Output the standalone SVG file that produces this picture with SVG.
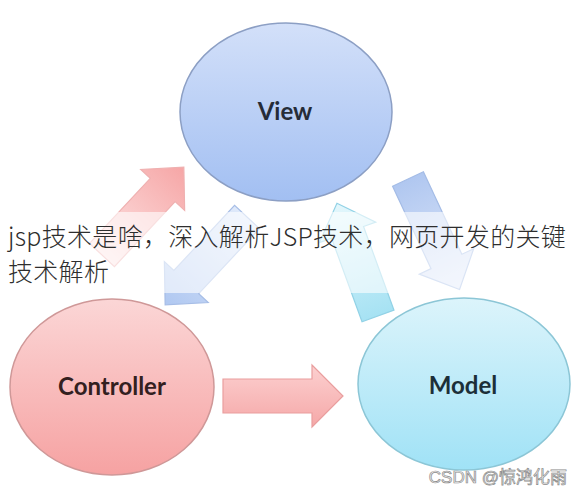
<svg xmlns="http://www.w3.org/2000/svg" width="578" height="490" viewBox="0 0 578 490">
<defs>
<style>
.lbl{font-family:Lato,"Open Sans","Liberation Sans",sans-serif;font-weight:bold;font-size:24px;text-anchor:middle}
.cap{font-family:"Noto Sans CJK SC","Noto Sans",sans-serif;font-weight:300;font-size:25px;letter-spacing:0.3px;fill:#2e2e2e}
.wm{font-family:"Liberation Sans","Noto Sans CJK SC",sans-serif;font-size:17px;fill:#f2f2f2;stroke:#8c8c8c;stroke-width:0.7}
.arr{stroke-width:1.2;stroke-linejoin:miter}
</style>
<linearGradient id="gView" x1="0" y1="0" x2="0" y2="1"><stop offset="0" stop-color="#d3e0f9"/><stop offset="1" stop-color="#a2bff2"/></linearGradient>
<linearGradient id="gCtrl" x1="0" y1="0" x2="0" y2="1"><stop offset="0" stop-color="#fbd6d6"/><stop offset="1" stop-color="#f6a2a2"/></linearGradient>
<linearGradient id="gModel" x1="0" y1="0" x2="0" y2="1"><stop offset="0" stop-color="#dcf4fb"/><stop offset="1" stop-color="#a0e2f6"/></linearGradient>
<linearGradient id="gRedH" x1="0" y1="0" x2="0" y2="1"><stop offset="0" stop-color="#fcd0d0"/><stop offset="1" stop-color="#f5a8a8"/></linearGradient>
<linearGradient id="gRedD" x1="0" y1="0" x2="1" y2="0"><stop offset="0" stop-color="#fde4e4"/><stop offset="1" stop-color="#f6a6a6"/></linearGradient>
<linearGradient id="gBlueL" x1="0" y1="0" x2="1" y2="0"><stop offset="0" stop-color="#dfe9fa"/><stop offset="1" stop-color="#b0c8f1"/></linearGradient>
<linearGradient id="gCyan" x1="0" y1="0" x2="1" y2="0"><stop offset="0" stop-color="#a6e2f3"/><stop offset="1" stop-color="#e4f7fc"/></linearGradient>
<linearGradient id="gBlueR" x1="0" y1="0" x2="1" y2="0"><stop offset="0" stop-color="#b0c7f0"/><stop offset="1" stop-color="#e2eafa"/></linearGradient>
</defs>
<rect width="578" height="490" fill="#ffffff"/>
<g id="connectors">
<path class="arr" d="M223,379 H312 V365 L343,396 L312,427 V413 H223 Z" fill="url(#gRedH)" stroke="#e99e9e"/>
<path class="arr" transform="translate(102,255) rotate(-47)" d="M0,-17 H89 V-30 L120,0 L89,30 V17 H0 Z" fill="url(#gRedD)" stroke="#efb0b0"/>
<path class="arr" transform="translate(247,217) rotate(133)" d="M0,-17 H89 V-30 L120,0 L89,30 V17 H0 Z" fill="url(#gBlueL)" stroke="#a6bde6"/>
<path class="arr" transform="translate(378,316) rotate(-110)" d="M0,-17 H89 V-30 L120,0 L89,30 V17 H0 Z" fill="url(#gCyan)" stroke="#92d2e6"/>
<path class="arr" transform="translate(408,179) rotate(65)" d="M0,-17 H91 V-30 L122,0 L91,30 V17 H0 Z" fill="url(#gBlueR)" stroke="#a4bce6"/>
</g>
<g id="view">
<ellipse cx="286" cy="112" rx="106" ry="89" fill="url(#gView)" stroke="#8c9fc4" stroke-width="1.5"/>
<text class="lbl" x="285" y="120" fill="#262c38">View</text>
</g>
<g id="controller">
<ellipse cx="112" cy="387" rx="102" ry="88" fill="url(#gCtrl)" stroke="#cf9898" stroke-width="1.5"/>
<text class="lbl" x="112" y="395" fill="#33201f">Controller</text>
</g>
<g id="model">
<ellipse cx="464" cy="384" rx="106" ry="86" fill="url(#gModel)" stroke="#8cc6d6" stroke-width="1.5"/>
<text class="lbl" x="463" y="394" fill="#1c2f38">Model</text>
</g>
<rect x="0" y="212" width="578" height="81" fill="#ffffff" fill-opacity="0.6"/>
<text class="cap" x="8" y="246">jsp技术是啥，深入解析JSP技术，网页开发的关键</text>
<text class="cap" x="8" y="281">技术解析</text>
<text class="wm" x="567" y="483" text-anchor="end">CSDN @惊鸿化雨</text>
</svg>
